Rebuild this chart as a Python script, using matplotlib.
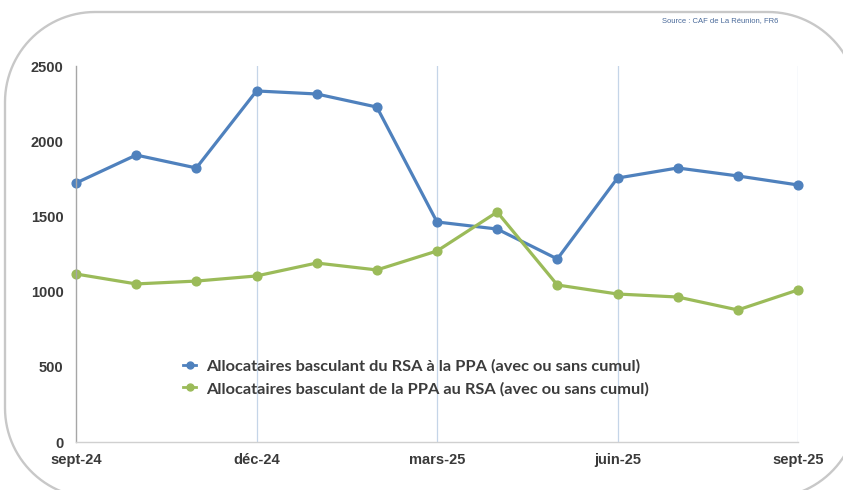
import matplotlib
matplotlib.use('Agg')
import numpy as np
import matplotlib.pyplot as plt
from matplotlib.path import Path
from matplotlib.patches import PathPatch

months = ['sept-24', 'oct-24', 'nov-24', 'déc-24', 'janv-25', 'févr-25', 'mars-25',
          'avr-25', 'mai-25', 'juin-25', 'juil-25', 'août-25', 'sept-25']
rsa_to_ppa = [1722, 1908, 1822, 2334, 2314, 2227, 1463, 1416, 1217, 1755, 1822, 1769, 1709]
ppa_to_rsa = [1117, 1051, 1070, 1104, 1190, 1144, 1270, 1529, 1044, 984, 964, 878, 1011]
label_rsa = 'Allocataires basculant du RSA à la PPA (avec ou sans cumul)'
label_ppa = 'Allocataires basculant de la PPA au RSA (avec ou sans cumul)'
tick_pos = [0, 3, 6, 9, 12]

blue = '#4F81BD'
green = '#9BBB59'
txt = '#3A3A3A'

W, H = 843, 490
fig = plt.figure(figsize=(W / 100, H / 100), dpi=100)
ax = fig.add_axes([76 / W, 1 - 442 / H, 722 / W, 376 / H])


def rounded_frame(left, top, right, bottom, r):
    # corners in pixel coords (y down), sampled arcs
    pts = []
    corners = [(right - r, top + r, -90, 0), (right - r, bottom - r, 0, 90),
               (left + r, bottom - r, 90, 180), (left + r, top + r, 180, 270)]
    for cx, cy, a0, a1 in corners:
        for a in np.linspace(np.radians(a0), np.radians(a1), 30):
            pts.append((cx + r * np.cos(a), cy + r * np.sin(a)))
    pts.append(pts[0])
    return [(px / W, 1 - py / H) for px, py in pts]


frame = PathPatch(Path(rounded_frame(5, 12, 858, 498, 90)), transform=fig.transFigure,
                  fill=False, edgecolor='#C8C8C8', linewidth=1.7, clip_on=False)
fig.add_artist(frame)

x = list(range(len(months)))
for xv in tick_pos[1:]:
    ax.axvline(xv, color='#C5D5E8', linewidth=0.9, zorder=0)

ax.plot(x, rsa_to_ppa, color=blue, linewidth=2.3, marker='o', markersize=6.3,
        label=label_rsa, clip_on=False)
ax.plot(x, ppa_to_rsa, color=green, linewidth=2.3, marker='o', markersize=6.3,
        label=label_ppa, clip_on=False)

ax.set_xlim(0, 12)
ax.set_ylim(0, 2500)
ax.set_yticks([0, 500, 1000, 1500, 2000, 2500])
ax.set_xticks(tick_pos)
ax.set_xticklabels([months[i] for i in tick_pos])
for lab in ax.get_xticklabels() + ax.get_yticklabels():
    lab.set_fontfamily('Liberation Sans')
    lab.set_fontweight('bold')
    lab.set_fontsize(10.5)
    lab.set_color(txt)
ax.tick_params(axis='both', length=0)
ax.tick_params(axis='y', pad=9)
ax.tick_params(axis='x', pad=8)

for s in ['top', 'right']:
    ax.spines[s].set_visible(False)
ax.spines['left'].set_color('#A6A6A6')
ax.spines['bottom'].set_color('#D0D0D0')
ax.spines['left'].set_linewidth(1)
ax.spines['bottom'].set_linewidth(1)

leg = ax.legend(loc='upper left', bbox_to_anchor=(0.128, 0.26), frameon=False,
                handlelength=0.8, handletextpad=0.6, labelspacing=0.5,
                prop={'family': 'Lato', 'weight': 'bold', 'size': 11.8})
for t in leg.get_texts():
    t.set_color('#3C3C3C')
for h in leg.legend_handles:
    h.set_markersize(5)
    h.set_linewidth(2)

fig.text(720 / W, 1 - 21 / H, 'Source : CAF de La Réunion, FR6', fontsize=5.5,
         color='#4A6A9A', ha='center', va='center', family='Liberation Sans')

fig.savefig('out.png', dpi=100)
